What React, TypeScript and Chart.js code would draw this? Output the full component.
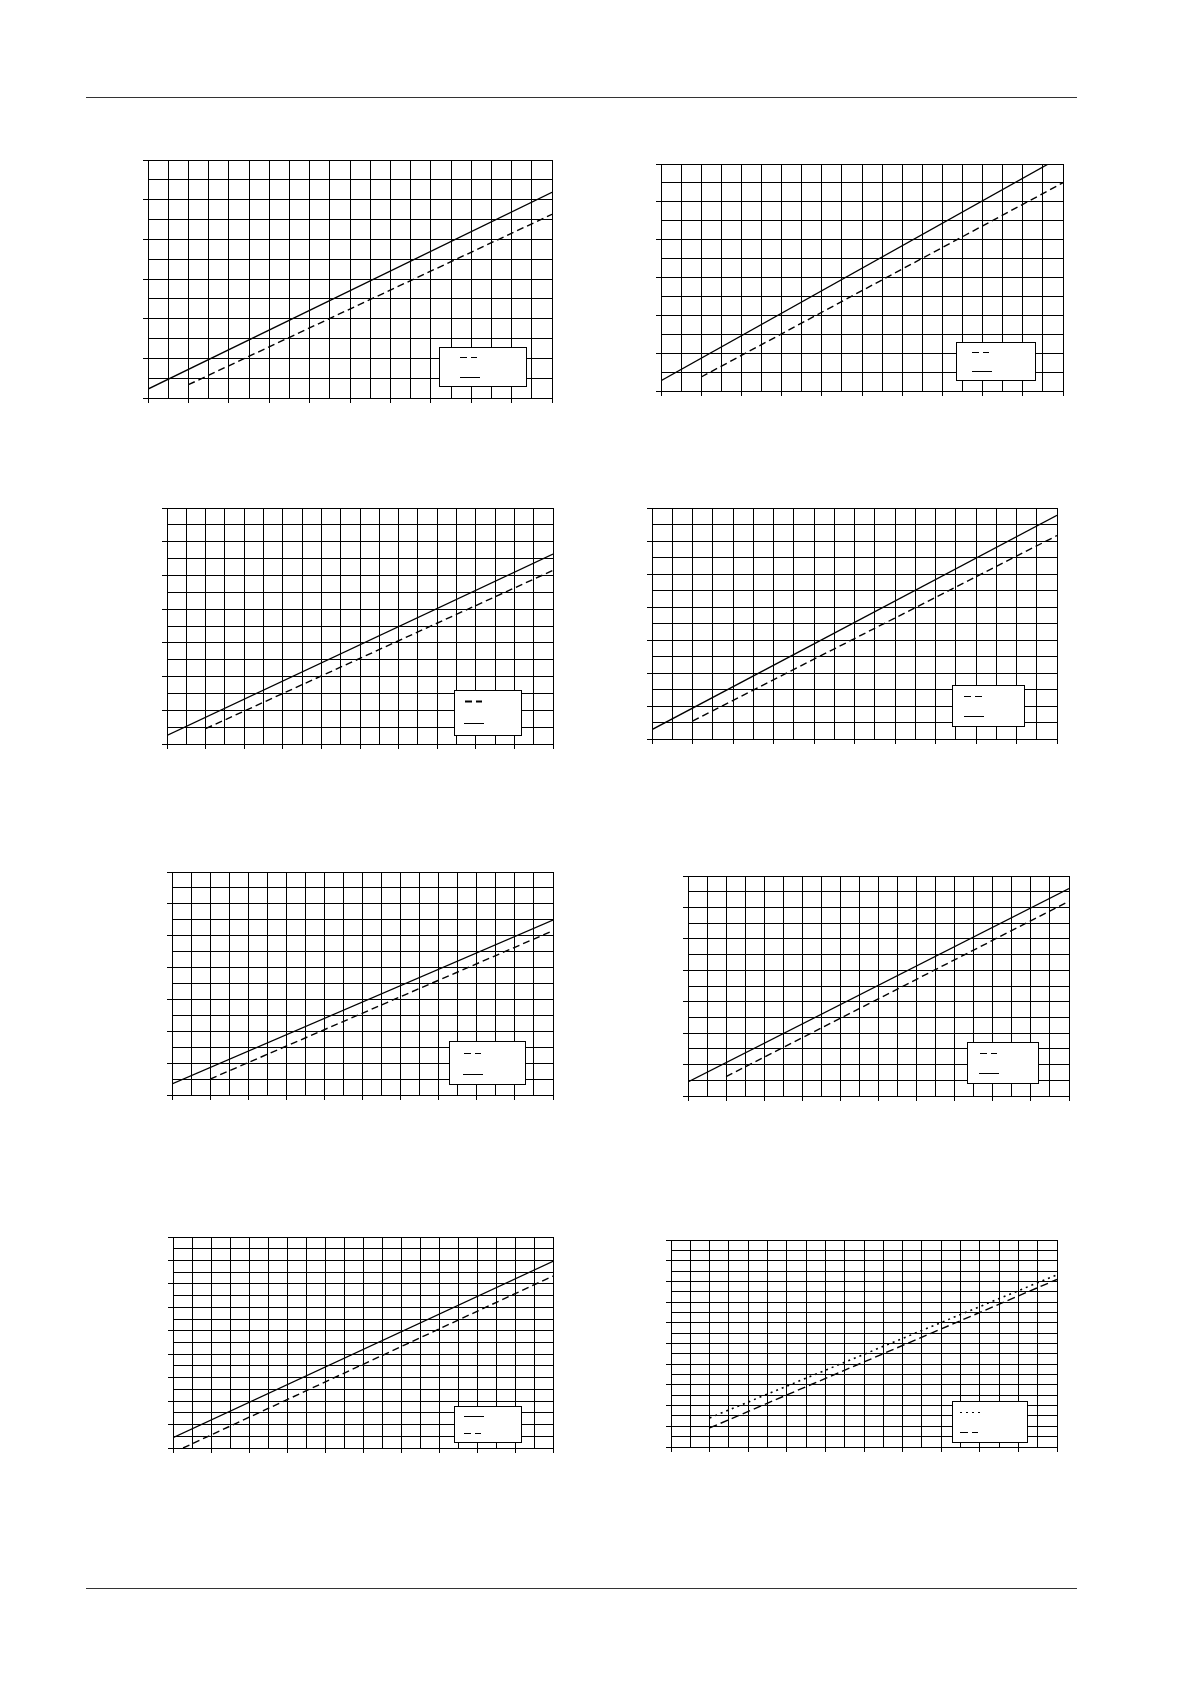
import { useEffect, useRef } from 'react';
import { Chart, registerables } from 'chart.js';

Chart.register(...registerables);

// Valores em unidades de grade (x: 0..20 células, y: 0..N células)
const chart1Solid = [{ x: 0, y: 0.45 }, { x: 20, y: 10.37 }];
const chart1Dashed = [{ x: 2, y: 0.67 }, { x: 20, y: 9.26 }];

const chart2Solid = [{ x: 0, y: 0.54 }, { x: 19.35, y: 12.05 }];
const chart2Dashed = [{ x: 2, y: 0.74 }, { x: 20, y: 11.01 }];

const chart3Solid = [{ x: 0, y: 0.51 }, { x: 20, y: 11.27 }];
const chart3Dashed = [{ x: 2, y: 0.91 }, { x: 20, y: 10.3 }];

const chart4Solid = [{ x: 0, y: 0.57 }, { x: 20, y: 13.56 }];
const chart4Dashed = [{ x: 2, y: 1.09 }, { x: 20, y: 12.33 }];

const chart5Solid = [{ x: 0, y: 0.69 }, { x: 20, y: 10.98 }];
const chart5Dashed = [{ x: 2, y: 1.0 }, { x: 20, y: 10.31 }];

const chart6Solid = [{ x: 0, y: 0.89 }, { x: 20, y: 13.2 }];
const chart6Dashed = [{ x: 2, y: 1.23 }, { x: 20, y: 12.39 }];

const chart7Solid = [{ x: 0, y: 0.88 }, { x: 20, y: 15.93 }];
const chart7Dashed = [{ x: 0.53, y: 0 }, { x: 20, y: 14.67 }];

const chart8Dotted = [{ x: 2, y: 2.81 }, { x: 20, y: 16.64 }];
const chart8Dashed = [{ x: 2, y: 1.84 }, { x: 20, y: 16.19 }];

const X_CELLS = 20;

const DASH = [7, 4];
const DOT = [2, 4];
const LONG_DASH = [8, 4];

// Caixa de legenda desenhada dentro da área do gráfico
const legendBoxPlugin = {
  id: 'legendBox',
  afterDraw(chart: any, _args: any, opts: any) {
    if (!opts || !opts.items) return;
    const { ctx, chartArea } = chart;
    const x0 = Math.round(chartArea.right - opts.right - opts.width);
    const y0 = Math.round(chartArea.bottom - opts.bottom - opts.height);
    ctx.save();
    ctx.fillStyle = '#fff';
    ctx.fillRect(x0, y0, Math.round(opts.width), Math.round(opts.height));
    ctx.strokeStyle = '#000';
    ctx.lineWidth = 1;
    ctx.setLineDash([]);
    ctx.strokeRect(x0 + 0.5, y0 + 0.5, Math.round(opts.width), Math.round(opts.height));
    opts.items.forEach((item: any) => {
      const ds = chart.data.datasets[item.dataset];
      ctx.setLineDash(ds.borderDash || []);
      ctx.lineWidth = item.lineWidth || 1;
      const y = Math.round(y0 + item.dy) + 0.5;
      ctx.beginPath();
      ctx.moveTo(x0 + item.dx, y);
      ctx.lineTo(x0 + item.dx + item.len, y);
      ctx.stroke();
    });
    ctx.restore();
  },
};

interface Area { left: number; top: number; right: number; bottom: number }

interface GridChartProps {
  area: Area;
  yCells: number;
  datasets: any[];
  legend: any;
}

function GridChart({ area, yCells, datasets, legend }: GridChartProps) {
  const chartRef = useRef<HTMLCanvasElement>(null);
  const chartInstance = useRef<Chart | null>(null);

  const L = Math.round(area.left);
  const T = Math.round(area.top);
  const R = Math.round(area.right);
  const B = Math.round(area.bottom);
  const pad = 10;
  const tick = 5;
  const width = R - L + 2 * pad;
  const height = B - T + 2 * pad;

  useEffect(() => {
    if (!chartRef.current) return;
    if (chartInstance.current) chartInstance.current.destroy();

    const tickColor = (ctx: any) => (ctx.index % 2 === 0 ? '#000' : 'rgba(0,0,0,0)');

    chartInstance.current = new Chart(chartRef.current, {
      type: 'line',
      data: { datasets },
      options: {
        responsive: false,
        animation: false,
        devicePixelRatio: 1,
        layout: {
          autoPadding: false,
          padding: { left: pad - tick, top: pad, right: pad, bottom: pad - tick },
        },
        elements: { point: { radius: 0 } },
        scales: {
          x: {
            type: 'linear',
            min: 0,
            max: X_CELLS,
            ticks: { display: false, stepSize: 1 },
            grid: { color: '#000', lineWidth: 1, drawTicks: true, tickLength: tick, tickColor },
            border: { display: true, color: '#000', width: 1 },
          },
          y: {
            type: 'linear',
            min: 0,
            max: yCells,
            ticks: { display: false, stepSize: 1 },
            grid: { color: '#000', lineWidth: 1, drawTicks: true, tickLength: tick, tickColor },
            border: { display: true, color: '#000', width: 1 },
          },
        },
        plugins: {
          legend: { display: false },
          tooltip: { enabled: false },
          legendBox: legend,
        } as any,
      },
      plugins: [legendBoxPlugin],
    });

    return () => {
      if (chartInstance.current) {
        chartInstance.current.destroy();
        chartInstance.current = null;
      }
    };
  }, []);

  return (
    <canvas
      ref={chartRef}
      width={width}
      height={height}
      style={{ position: 'absolute', left: L - pad, top: T - pad, width, height }}
    />
  );
}

const solid = (data: any[]) => ({
  data, borderColor: '#000', borderWidth: 1.3, pointRadius: 0, fill: false,
});
const styled = (data: any[], dash: number[], w = 1.4) => ({ ...solid(data), borderDash: dash, borderWidth: w });

export default function App() {
  return (
    <div style={{ position: 'absolute', left: 0, top: 0, width: 1190, height: 1684, background: '#fff' }}>
      <div style={{ position: 'absolute', left: 86, top: 97, width: 991, height: 1, background: '#333' }} />
      <div style={{ position: 'absolute', left: 86, top: 1588, width: 991, height: 1, background: '#333' }} />

      <GridChart
        area={{ left: 148, top: 160, right: 552, bottom: 398 }}
        yCells={12}
        datasets={[styled(chart1Dashed, DASH), solid(chart1Solid)]}
        legend={{ right: 26, bottom: 12, width: 87, height: 39, items: [
          { dataset: 0, dx: 21, dy: 10, len: 17 },
          { dataset: 1, dx: 21, dy: 30, len: 20 },
        ] }}
      />
      <GridChart
        area={{ left: 661, top: 164, right: 1063, bottom: 391 }}
        yCells={12}
        datasets={[styled(chart2Dashed, DASH), solid(chart2Solid)]}
        legend={{ right: 28, bottom: 11, width: 79, height: 38, items: [
          { dataset: 0, dx: 16, dy: 10, len: 17 },
          { dataset: 1, dx: 16, dy: 29, len: 20 },
        ] }}
      />
      <GridChart
        area={{ left: 167, top: 508, right: 553, bottom: 744 }}
        yCells={14}
        datasets={[styled(chart3Dashed, DASH), solid(chart3Solid)]}
        legend={{ right: 32, bottom: 9, width: 67, height: 45, items: [
          { dataset: 0, dx: 11, dy: 11, len: 17, lineWidth: 2 },
          { dataset: 1, dx: 10, dy: 33, len: 20 },
        ] }}
      />
      <GridChart
        area={{ left: 652, top: 508, right: 1057, bottom: 739 }}
        yCells={14}
        datasets={[styled(chart4Dashed, DASH), solid(chart4Solid)]}
        legend={{ right: 33, bottom: 13, width: 72, height: 41, items: [
          { dataset: 0, dx: 12, dy: 11, len: 18 },
          { dataset: 1, dx: 12, dy: 31, len: 20 },
        ] }}
      />
      <GridChart
        area={{ left: 172, top: 872, right: 553, bottom: 1095 }}
        yCells={14}
        datasets={[styled(chart5Dashed, DASH), solid(chart5Solid)]}
        legend={{ right: 28, bottom: 11, width: 76, height: 43, items: [
          { dataset: 0, dx: 15, dy: 12, len: 17 },
          { dataset: 1, dx: 14, dy: 33, len: 20 },
        ] }}
      />
      <GridChart
        area={{ left: 688, top: 876, right: 1069, bottom: 1096 }}
        yCells={14}
        datasets={[styled(chart6Dashed, DASH), solid(chart6Solid)]}
        legend={{ right: 31, bottom: 13, width: 71, height: 41, items: [
          { dataset: 0, dx: 13, dy: 11, len: 17 },
          { dataset: 1, dx: 12, dy: 31, len: 20 },
        ] }}
      />
      <GridChart
        area={{ left: 173, top: 1237, right: 553, bottom: 1448 }}
        yCells={18}
        datasets={[solid(chart7Solid), styled(chart7Dashed, DASH)]}
        legend={{ right: 32, bottom: 6, width: 67, height: 36, items: [
          { dataset: 0, dx: 10, dy: 10, len: 20 },
          { dataset: 1, dx: 10, dy: 27, len: 17 },
        ] }}
      />
      <GridChart
        area={{ left: 671, top: 1240, right: 1057, bottom: 1447 }}
        yCells={20}
        datasets={[styled(chart8Dotted, DOT, 1.6), styled(chart8Dashed, LONG_DASH)]}
        legend={{ right: 30, bottom: 5, width: 75, height: 41, items: [
          { dataset: 0, dx: 8, dy: 11, len: 20 },
          { dataset: 1, dx: 8, dy: 31, len: 18 },
        ] }}
      />
    </div>
  );
}
